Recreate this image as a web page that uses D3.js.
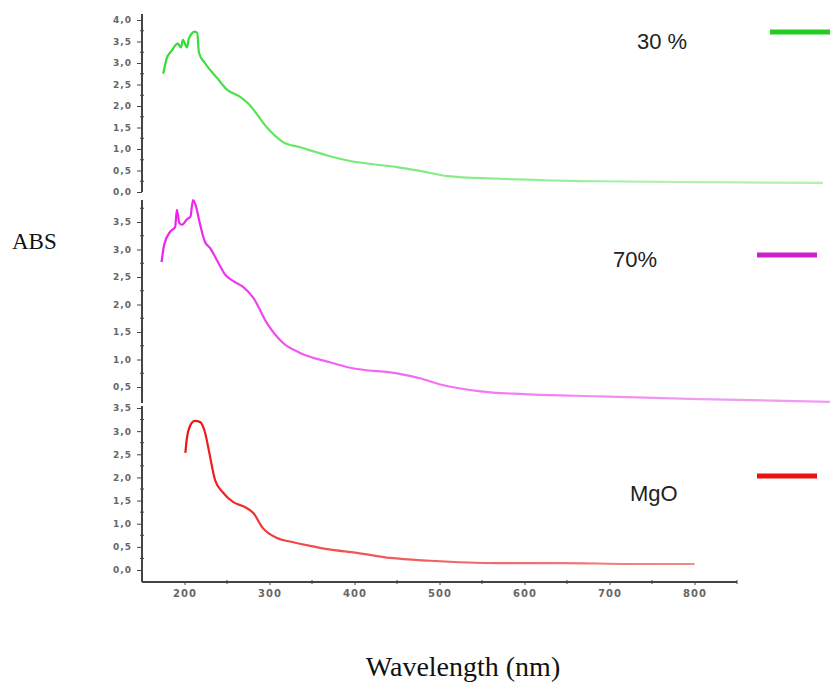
<!DOCTYPE html>
<meta charset="utf-8">
<head>
<style>
  body { margin: 0; background: #fff; }
  .axis path, .axis line { fill: none; stroke: #444; }
  .axis text { font: bold 9px "DejaVu Sans", sans-serif; fill: #666; letter-spacing: 1px; }
  .legend { font-family: "Liberation Sans", Arial, sans-serif; font-size: 22px; fill: #222; }
  .title { font-family: "Liberation Serif", "Times New Roman", serif; fill: #111; }
</style>
</head>
<body>
<script src="https://d3js.org/d3.v7.min.js"></script>
<script>

// wavelength (nm) / absorbance
var wl30  = [175,179,185,192,196,198,203,205,212,215,217,224,238,250,265,275,297,316,336,368,395,450,480,509,568,685,803,951];
var abs30 = [2.75,3.1,3.29,3.45,3.36,3.54,3.36,3.56,3.73,3.7,3.24,3.0,2.66,2.38,2.22,2.06,1.5,1.16,1.04,0.85,0.72,0.58,0.48,0.37,0.31,0.25,0.23,0.21];

var wl70  = [173,176,183,189,191,194,197,203,207,210,213,218,224,230,238,248,257,269,281,297,316,336,371,395,453,477,500,548,600,690,806,960];
var abs70 = [2.77,3.08,3.32,3.41,3.72,3.48,3.45,3.55,3.6,3.9,3.81,3.48,3.14,3.03,2.81,2.54,2.43,2.32,2.12,1.66,1.3,1.12,0.95,0.85,0.74,0.66,0.55,0.42,0.37,0.33,0.28,0.23];

var wlMgO  = [201,203,206,212,218,224,229,236,245,257,271,281,292,309,328,348,368,403,442,489,568,645,724,763,800];
var absMgO = [2.53,2.87,3.09,3.22,3.2,2.98,2.55,1.94,1.68,1.47,1.36,1.23,0.91,0.69,0.6,0.52,0.45,0.37,0.26,0.2,0.15,0.15,0.13,0.13,0.13];

var xTicks = [200,300,400,500,600,700,800];
var yTicksTop = [0,0.5,1,1.5,2,2.5,3,3.5,4];
var yTicksMid = [0.5,1,1.5,2,2.5,3,3.5];
var yTicksBot = [0,0.5,1,1.5,2,2.5,3,3.5];

var W = 830, H = 683;

var svg = d3.select("body").append("svg")
    .attr("width", W)
    .attr("height", H);

var x = d3.scaleLinear().domain([150, 850]).range([142, 737]);

var panels = [
  {name: "g30", wl: wl30, abs: abs30, y: d3.scaleLinear().domain([0, 4]).range([192, 20]),
   ticks: yTicksTop, span: [14, 192], c0: "#33dd33", c1: "#b0f2b0", legend: "30 %", lx: 637, ly: 49,
   lc: "#22cc22", l1: 770, l2: 830, lly: 32},
  {name: "g70", wl: wl70, abs: abs70, y: d3.scaleLinear().domain([0.5, 3.5]).range([387, 222]),
   ticks: yTicksMid, span: [200, 403], c0: "#ee22ee", c1: "#f39af3", legend: "70%", lx: 613, ly: 267,
   lc: "#cc22cc", l1: 757, l2: 817, lly: 255},
  {name: "gMgO", wl: wlMgO, abs: absMgO, y: d3.scaleLinear().domain([0, 3.5]).range([570, 408]),
   ticks: yTicksBot, span: [406, 582], c0: "#ee1111", c1: "#f28a8a", legend: "MgO", lx: 630, ly: 501,
   lc: "#ee1111", l1: 757, l2: 817, lly: 476}
];

var fmt = function(d) { return d3.format(".1f")(d).replace(".", ","); };
var defs = svg.append("defs");

panels.forEach(function(p) {
  // left axis
  var g = svg.append("g").attr("class", "axis")
      .attr("transform", "translate(" + x(150) + ",0)")
      .call(d3.axisLeft(p.y).tickValues(p.ticks).tickFormat(fmt).tickSize(5).tickSizeOuter(0).tickPadding(5));
  g.select(".domain").remove();
  g.append("line")
      .attr("y1", p.span[0]).attr("y2", p.span[1])
      .attr("stroke", "#444").attr("stroke-width", 2);
  // minor ticks
  g.selectAll(".minor")
      .data(p.ticks.map(function(d) { return d + 0.25; }).filter(function(d) { return p.y(d) > p.span[0]; }))
    .enter().append("line")
      .attr("x1", -2).attr("x2", 2)
      .attr("y1", function(d) { return p.y(d); })
      .attr("y2", function(d) { return p.y(d); })
      .attr("stroke", "#777");

  // fading colour along the curve
  var grad = defs.append("linearGradient")
      .attr("id", "grad" + p.name)
      .attr("gradientUnits", "userSpaceOnUse")
      .attr("x1", x(200)).attr("x2", x(800)).attr("y1", 0).attr("y2", 0);
  grad.append("stop").attr("offset", "0%").attr("stop-color", p.c0);
  grad.append("stop").attr("offset", "25%").attr("stop-color", d3.interpolateRgb(p.c0, p.c1)(0.5));
  grad.append("stop").attr("offset", "100%").attr("stop-color", p.c1);

  var pts = p.wl.map(function(d, i) { return [d, p.abs[i]]; });
  var line = d3.line()
      .x(function(d) { return x(d[0]); })
      .y(function(d) { return p.y(d[1]); })
      .curve(d3.curveMonotoneX);

  svg.append("path")
      .datum(pts)
      .attr("fill", "none")
      .attr("stroke", "url(#grad" + p.name + ")")
      .attr("stroke-width", 2.2)
      .attr("stroke-linejoin", "round")
      .attr("d", line);

  // legend
  svg.append("text")
      .attr("class", "legend")
      .attr("x", p.lx).attr("y", p.ly)
      .text(p.legend);
  svg.append("line")
      .attr("x1", p.l1).attr("x2", p.l2)
      .attr("y1", p.lly).attr("y2", p.lly)
      .attr("stroke", p.lc).attr("stroke-width", 5);
});

// bottom axis
var xg = svg.append("g").attr("class", "axis")
    .attr("transform", "translate(0,582)")
    .call(d3.axisBottom(x).tickValues(xTicks).tickFormat(d3.format("d")).tickSize(3).tickSizeOuter(0).tickPadding(5));
xg.select(".domain").remove();
xg.append("line").attr("x1", x(150)).attr("x2", x(850)).attr("stroke", "#444").attr("stroke-width", 2);
xg.selectAll(".minor")
    .data([250,350,450,550,650,750,850])
  .enter().append("line")
    .attr("x1", function(d) { return x(d); }).attr("x2", function(d) { return x(d); })
    .attr("y1", -2).attr("y2", 2)
    .attr("stroke", "#555");
xg.selectAll(".tick text").style("font-size", "10px");

// titles
svg.append("text")
    .attr("class", "title")
    .attr("x", 12).attr("y", 249)
    .style("font-size", "23px")
    .text("ABS");

svg.append("text")
    .attr("class", "title")
    .attr("x", 463).attr("y", 676)
    .attr("text-anchor", "middle")
    .style("font-size", "28px")
    .text("Wavelength (nm)");

</script>
</body>
